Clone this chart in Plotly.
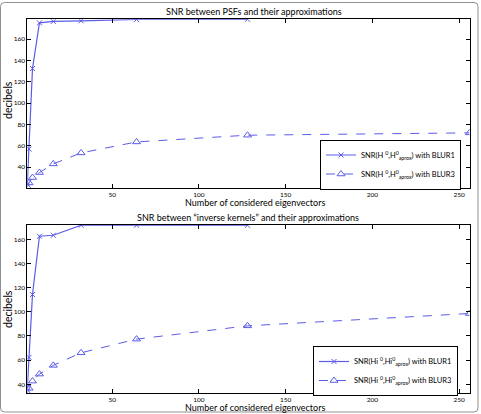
import plotly.graph_objects as go

# ---- data ----
x_b1 = [1, 2, 4, 8, 16, 32, 64, 128]
x_b3 = [1, 2, 4, 8, 16, 32, 64, 128, 256]
snr_psf_blur1 = [24, 57, 132.5, 175.3, 176.6, 177.2, 178.5, 178.6]
snr_psf_blur3 = [21.5, 25.3, 30.3, 35, 43.1, 53.4, 63.7, 70, 72.2]
snr_inv_blur1 = [37, 62.3, 114.3, 162.5, 163.3, 171.6, 171.6, 171.6]
snr_inv_blur3 = [33, 36.7, 42.7, 48.5, 55.7, 66.1, 77.4, 88.4, 98.6]
x_ticks = [50, 100, 150, 200, 250]
y_ticks = [40, 60, 80, 100, 120, 140, 160]

W, H = 481, 414
FONT = "Lato"
BLUE = "#5b5be8"

def px(v):
    return v / W

def py(v):
    return 1 - v / H

fig = go.Figure()

lbl_b1_top = "SNR(H <sup>0</sup>,H<sup>0</sup><sub>aprox</sub>) with BLUR1"
lbl_b3_top = "SNR(H <sup>0</sup>,H<sup>0</sup><sub>aprox</sub>) with BLUR3"
lbl_b1_bot = "SNR(Hi <sup>0</sup>,Hi<sup>0</sup><sub>aprox</sub>) with BLUR1"
lbl_b3_bot = "SNR(Hi <sup>0</sup>,Hi<sup>0</sup><sub>aprox</sub>) with BLUR3"

fig.add_trace(go.Scatter(x=x_b1, y=snr_psf_blur1, mode="lines+markers", name=lbl_b1_top,
                         line=dict(color=BLUE, width=1.2),
                         marker=dict(symbol="x-thin-open", size=5, color=BLUE, line=dict(width=1, color=BLUE)),
                         xaxis="x", yaxis="y", legend="legend"))
fig.add_trace(go.Scatter(x=x_b3, y=snr_psf_blur3, mode="lines+markers", name=lbl_b3_top,
                         line=dict(color=BLUE, width=1, dash="dash"),
                         marker=dict(symbol="triangle-up-open", size=7, color=BLUE, line=dict(width=1, color=BLUE)),
                         xaxis="x", yaxis="y", legend="legend"))
fig.add_trace(go.Scatter(x=x_b1, y=snr_inv_blur1, mode="lines+markers", name=lbl_b1_bot,
                         line=dict(color=BLUE, width=1.2),
                         marker=dict(symbol="x-thin-open", size=5, color=BLUE, line=dict(width=1, color=BLUE)),
                         xaxis="x2", yaxis="y2", legend="legend2"))
fig.add_trace(go.Scatter(x=x_b3, y=snr_inv_blur3, mode="lines+markers", name=lbl_b3_bot,
                         line=dict(color=BLUE, width=1, dash="dash"),
                         marker=dict(symbol="triangle-up-open", size=7, color=BLUE, line=dict(width=1, color=BLUE)),
                         xaxis="x2", yaxis="y2", legend="legend2"))

axis_common = dict(showline=True, linecolor="black", linewidth=1, mirror="ticks",
                   ticks="inside", ticklen=4, tickcolor="black", showgrid=False, zeroline=False,
                   tickfont=dict(family=FONT, size=6.5, color="black"))

xdom = [px(27.3), px(469.5)]
leg_common = dict(xanchor="right", yanchor="top", bordercolor="black", borderwidth=1, bgcolor="white",
                  font=dict(family=FONT, size=7.5, color="black"), tracegroupgap=0, itemwidth=30)
fig.update_layout(
    width=W, height=H,
    margin=dict(l=0, r=0, t=0, b=0),
    paper_bgcolor="white", plot_bgcolor="white",
    showlegend=True,
    xaxis=dict(domain=xdom, range=[1, 256], tickvals=x_ticks, anchor="y", **axis_common),
    yaxis=dict(domain=[py(187.7), py(19.3)], range=[20.8, 178.6], tickvals=y_ticks, anchor="x", **axis_common),
    xaxis2=dict(domain=xdom, range=[1, 256], tickvals=x_ticks, anchor="y2", **axis_common),
    yaxis2=dict(domain=[py(393.3), py(225)], range=[32.6, 171.8], tickvals=y_ticks, anchor="x2", **axis_common),
    legend=dict(x=px(461), y=py(139.5), **leg_common),
    legend2=dict(x=px(458), y=py(346), **leg_common),
)

def ann(text, x, y, size, angle=0):
    fig.add_annotation(text=text, x=px(x), y=py(y), xref="paper", yref="paper",
                       showarrow=False, textangle=angle, xanchor="center", yanchor="middle",
                       font=dict(family=FONT, size=size, color="black"))

ann("SNR between PSFs and their approximations", 254, 11, 9)
ann("Number of considered eigenvectors", 255, 202.5, 9)
ann("decibels", 8, 100, 10.5, -90)
ann("SNR between \u201cinverse kernels\u201d and their approximations", 248, 217, 9)
ann("Number of considered eigenvectors", 255, 407.5, 9)
ann("decibels", 8, 309, 10.5, -90)

# outer gray frame
x0, y0, x1, y1, r = 0.5, 2.5, 478, 412, 4
path = (f"M {px(x0)},{py(y0 + r)} L {px(x0)},{py(y1 - r)} Q {px(x0)},{py(y1)} {px(x0 + r)},{py(y1)} "
        f"L {px(x1 - r)},{py(y1)} Q {px(x1)},{py(y1)} {px(x1)},{py(y1 - r)} "
        f"L {px(x1)},{py(y0 + r)} Q {px(x1)},{py(y0)} {px(x1 - r)},{py(y0)} "
        f"L {px(x0 + r)},{py(y0)} Q {px(x0)},{py(y0)} {px(x0)},{py(y0 + r)} Z")
fig.add_shape(type="path", path=path, xref="paper", yref="paper",
              line=dict(color="#909090", width=1))

fig.write_html("out.html")
